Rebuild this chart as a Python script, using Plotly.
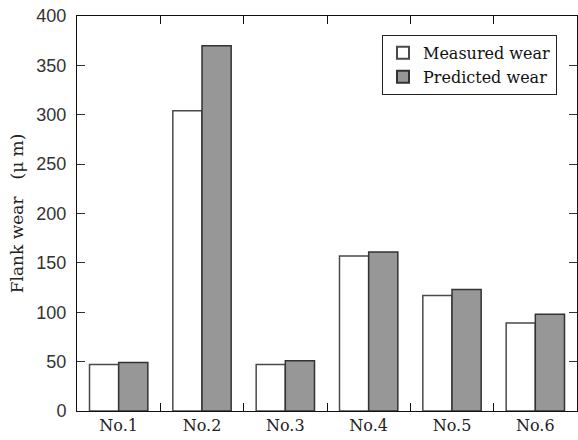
import plotly.graph_objects as go

categories = ["No.1", "No.2", "No.3", "No.4", "No.5", "No.6"]
measured = [47, 304, 47, 157, 117, 89]
predicted = [49, 370, 51, 161, 123, 98]
y_ticks = [0, 50, 100, 150, 200, 250, 300, 350, 400]

SERIF = "DejaVu Serif"
SANS = "Liberation Sans"

fig = go.Figure()
fig.add_trace(go.Bar(
    x=categories, y=measured, name="Measured wear",
    marker=dict(color="#ffffff", line=dict(color="#4a4a4a", width=1.5)),
))
fig.add_trace(go.Bar(
    x=categories, y=predicted, name="Predicted wear",
    marker=dict(color="#979797", line=dict(color="#333333", width=1.5)),
))

fig.update_layout(
    width=578, height=440,
    margin=dict(l=77, r=1, t=16, b=29),
    paper_bgcolor="white", plot_bgcolor="white",
    barmode="group", bargap=0.3, bargroupgap=0,
    showlegend=True,
    legend=dict(
        x=0.96, y=0.952, xanchor="right", yanchor="top",
        bordercolor="#222222", borderwidth=1, bgcolor="white",
        font=dict(family=SERIF, size=16, color="#111111"),
        tracegroupgap=4, itemsizing="constant",
    ),
    xaxis=dict(
        showline=True, linecolor="#111111", linewidth=1, mirror="ticks",
        ticks="inside", ticklen=8, tickcolor="#111111", tickson="boundaries",
        tickfont=dict(family=SERIF, size=16, color="#222222"),
        showgrid=False, zeroline=False,
    ),
    yaxis=dict(
        range=[0, 400], tickvals=y_ticks,
        showline=True, linecolor="#111111", linewidth=1, mirror="ticks",
        ticks="inside", ticklen=8, tickcolor="#333333",
        ticklabelstandoff=6,
        tickfont=dict(family=SANS, size=18, color="#333333"),
        showgrid=False, zeroline=False,
        title=dict(text="Flank wear\u3000(\u03bc m)", standoff=8,
                   font=dict(family=SERIF, size=17, color="#222222")),
    ),
)

fig.write_html("out.html")
